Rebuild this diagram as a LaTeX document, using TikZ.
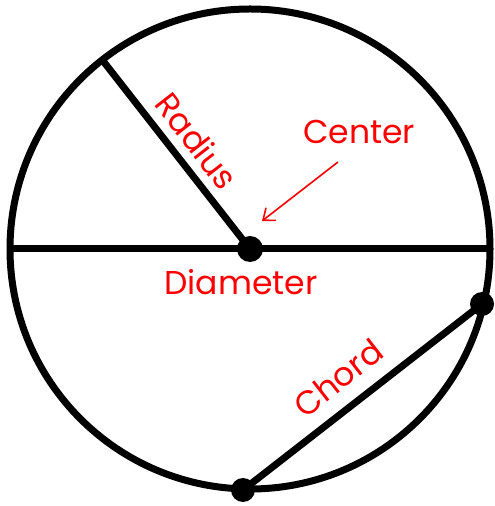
\documentclass[tikz,border=0pt]{standalone}
\usepackage{fontspec}
\setmainfont{Poppins}
\usetikzlibrary{arrows.meta,calc}
\begin{document}
\begin{tikzpicture}[x=1pt,y=1pt,
  geo/.style={line width=7pt},
  dotpt/.style={circle,fill=black,inner sep=0pt,minimum size=24pt},
  lbl/.style={text=red,font=\fontsize{33}{38}\selectfont,inner sep=0pt}]
\useasboundingbox (0,0) rectangle (495,506);
\coordinate (O) at (250,257);
\draw[geo] (O) circle (240);
\coordinate (L) at (10,257);
\coordinate (R) at (490,257);
\coordinate (A) at ($(O)+(128:240)$);
\coordinate (C1) at (243,16);
\coordinate (C2) at (482,202);
\draw[geo] (L) -- (R);
\draw[geo] (O) -- (A);
\draw[geo] (C1) -- (C2);
\node[dotpt,minimum size=26pt] (Od) at (O) {};
\node[dotpt] (C1d) at (C1) {};
\node[dotpt] (C2d) at (C2) {};
\node[lbl,rotate=-52] (rad) at (197,365) {Radius};
\node[lbl] (cen) at (359,374) {Center};
\node[lbl] (dia) at (241,224) {Diameter};
\node[lbl,rotate=38] (cho) at (338,128) {Chord};
\coordinate (ae) at (262,285);
\draw[red,line width=1.6pt,-{Straight Barb[length=10pt,width=16pt]}] (338,344) -- (ae);
\end{tikzpicture}
\end{document}
